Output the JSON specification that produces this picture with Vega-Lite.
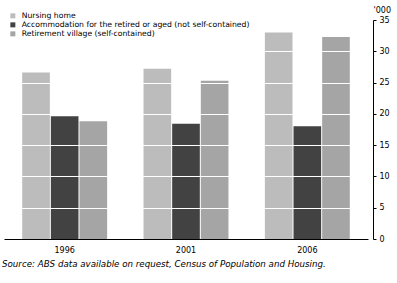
{
  "$schema": "https://vega.github.io/schema/vega-lite/v6.json",
  "autosize": {"type": "none"},
  "width": 364,
  "height": 219,
  "padding": {"left": 4, "top": 20, "right": 29, "bottom": 44},
  "background": "white",
  "config": {
    "view": {"stroke": null},
    "font": "DejaVu Sans",
    "axis": {"labelFont": "DejaVu Sans", "titleFont": "DejaVu Sans"},
    "legend": {"labelFont": "DejaVu Sans"}
  },
  "title": {
    "text": "Source: ABS data available on request, Census of Population and Housing.",
    "orient": "bottom",
    "anchor": "start",
    "frame": "bounds",
    "font": "DejaVu Sans",
    "fontSize": 8.7,
    "fontStyle": "italic",
    "fontWeight": "normal",
    "color": "#000000",
    "offset": 6,
    "dx": -2
  },
  "data": {
    "values": [
      {"year": "1996", "type": "Nursing home", "value": 26.6},
      {"year": "1996", "type": "Accommodation for the retired or aged (not self-contained)", "value": 19.6},
      {"year": "1996", "type": "Retirement village (self-contained)", "value": 18.8},
      {"year": "2001", "type": "Nursing home", "value": 27.2},
      {"year": "2001", "type": "Accommodation for the retired or aged (not self-contained)", "value": 18.4},
      {"year": "2001", "type": "Retirement village (self-contained)", "value": 25.3},
      {"year": "2006", "type": "Nursing home", "value": 33.0},
      {"year": "2006", "type": "Accommodation for the retired or aged (not self-contained)", "value": 18.0},
      {"year": "2006", "type": "Retirement village (self-contained)", "value": 32.3}
    ]
  },
  "mark": {"type": "bar"},
  "encoding": {
    "x": {
      "field": "year",
      "type": "nominal",
      "scale": {"paddingInner": 0.3, "paddingOuter": 0.15},
      "axis": {
        "title": null,
        "labelAngle": 0,
        "ticks": false,
        "zindex": 2,
        "domainColor": "#000000",
        "domainWidth": 1,
        "labelFontSize": 8,
        "labelColor": "#000000",
        "labelPadding": 7
      }
    },
    "xOffset": {
      "field": "type",
      "type": "nominal",
      "sort": ["Nursing home", "Accommodation for the retired or aged (not self-contained)", "Retirement village (self-contained)"],
      "scale": {"paddingInner": 0.035}
    },
    "y": {
      "field": "value",
      "type": "quantitative",
      "scale": {"domain": [0, 35], "nice": false},
      "axis": {
        "orient": "right",
        "offset": 5,
        "values": [0, 5, 10, 15, 20, 25, 30, 35],
        "grid": true,
        "gridColor": "#ffffff",
        "gridWidth": 1.2,
        "gridOpacity": 1,
        "zindex": 1,
        "domainColor": "#000000",
        "tickColor": "#000000",
        "tickSize": 3,
        "labelFontSize": 8,
        "labelColor": "#000000",
        "labelPadding": 3,
        "title": "'000",
        "titleAngle": 0,
        "titleAlign": "left",
        "titleBaseline": "middle",
        "titleFontSize": 8,
        "titleFontWeight": "normal",
        "titleColor": "#000000",
        "titleX": 0,
        "titleY": -10
      }
    },
    "color": {
      "field": "type",
      "type": "nominal",
      "sort": ["Nursing home", "Accommodation for the retired or aged (not self-contained)", "Retirement village (self-contained)"],
      "scale": {
        "domain": ["Nursing home", "Accommodation for the retired or aged (not self-contained)", "Retirement village (self-contained)"],
        "range": ["#bcbcbc", "#424242", "#a5a5a5"]
      },
      "legend": {
        "title": null,
        "orient": "none",
        "legendX": 5,
        "legendY": -8,
        "symbolType": "square",
        "symbolSize": 25,
        "symbolStrokeWidth": 0,
        "labelFontSize": 7.7,
        "labelColor": "#000000",
        "labelOffset": 5,
        "rowPadding": 0,
        "labelLimit": 400
      }
    }
  }
}
